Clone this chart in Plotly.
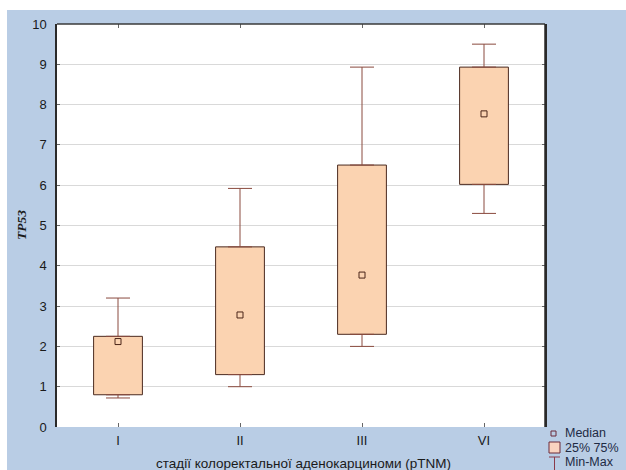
import plotly.graph_objects as go

categories = ["I", "II", "III", "VI"]
q1 = [0.80, 1.30, 2.30, 6.02]
q3 = [2.25, 4.47, 6.50, 8.93]
median = [2.12, 2.78, 3.77, 7.77]
vmin = [0.72, 1.00, 2.00, 5.30]
vmax = [3.20, 5.92, 8.93, 9.50]
y_ticks = list(range(0, 11))

box_fill = "#fbd3b1"
box_line = "#4a2a20"
whisk = "#8a4a3e"

fig = go.Figure()
fig.add_trace(go.Bar(
    x=categories, y=[b - a for a, b in zip(q1, q3)], base=q1, width=0.4,
    marker=dict(color=box_fill, line=dict(color=box_line, width=1)),
    showlegend=False, hoverinfo="skip"))
fig.add_trace(go.Scatter(
    x=categories, y=q3, mode="markers", marker=dict(size=1, opacity=0),
    error_y=dict(type="data", symmetric=False, array=[b - a for a, b in zip(q3, vmax)],
                 arrayminus=[0] * 4, color=whisk, thickness=1, width=12),
    showlegend=False, hoverinfo="skip"))
fig.add_trace(go.Scatter(
    x=categories, y=q1, mode="markers", marker=dict(size=1, opacity=0),
    error_y=dict(type="data", symmetric=False, array=[0] * 4,
                 arrayminus=[a - b for a, b in zip(q1, vmin)], color=whisk, thickness=1, width=12),
    showlegend=False, hoverinfo="skip"))
fig.add_trace(go.Scatter(
    x=categories, y=median, mode="markers",
    marker=dict(symbol="square-open", size=6, color="#4a2418", line=dict(width=1)),
    showlegend=False, hoverinfo="skip"))

font = "Liberation Sans, Arial, sans-serif"
W, H = 488, 403
def px(x):
    return (x - 57) / W
def py(y):
    return (427 - y) / H

shapes = [
    dict(type="rect", xref="paper", yref="paper", x0=px(0), x1=px(626), y0=py(10), y1=py(0),
         fillcolor="white", line=dict(width=0), layer="below"),
    dict(type="rect", xref="paper", yref="paper", x0=px(0), x1=px(7), y0=py(470), y1=py(0),
         fillcolor="white", line=dict(width=0), layer="below"),
    dict(type="line", xref="paper", yref="paper", x0=0, x1=1, y0=1, y1=1, line=dict(color="#3a3a3a", width=1.5)),
    dict(type="line", xref="paper", yref="paper", x0=1, x1=1, y0=0, y1=1, line=dict(color="#2a2a2a", width=1.5)),
    # legend icons
    dict(type="rect", xref="paper", yref="paper", x0=px(551), x1=px(556),
         y0=py(436), y1=py(431), line=dict(color="#6a2a3a", width=1), fillcolor="rgba(0,0,0,0)"),
    dict(type="rect", xref="paper", yref="paper", x0=px(549), x1=px(560),
         y0=py(453), y1=py(442), line=dict(color="#6a2a3a", width=1), fillcolor="#f9d3c0"),
    dict(type="line", xref="paper", yref="paper", x0=px(549), x1=px(560),
         y0=py(457), y1=py(457), line=dict(color="#8a3a4a", width=1)),
    dict(type="line", xref="paper", yref="paper", x0=px(554.5), x1=px(554.5),
         y0=py(457), y1=py(470), line=dict(color="#8a3a4a", width=1)),
]
annotations = [
    dict(text=t, xref="paper", yref="paper", x=px(563), y=py(yy), xanchor="left", yanchor="middle",
         showarrow=False, font=dict(family=font, size=12.5, color="#1e2a44"))
    for t, yy in [("Median", 433), ("25% 75%", 448), ("Min-Max", 462)]
]
annotations.append(dict(text="стадії колоректальної аденокарциноми (pTNM)", xref="paper", yref="paper",
                        x=px(303), y=py(463), xanchor="center", yanchor="middle", showarrow=False,
                        font=dict(family=font, size=13.5, color="#1a1a1a")))
annotations.append(dict(text="<b><i>TP53</i></b>", xref="paper", yref="paper", textangle=-90,
                        x=px(21), y=py(225), xanchor="center", yanchor="middle", showarrow=False,
                        font=dict(family="Liberation Serif, Times New Roman, serif", size=13.5, color="#1a1a1a")))

fig.update_layout(
    width=626, height=470,
    margin=dict(l=57, r=81, t=24, b=43),
    paper_bgcolor="#b9cde5", plot_bgcolor="white",
    shapes=shapes, annotations=annotations, showlegend=False,
    font=dict(family=font, size=12, color="#1a1a1a"),
    xaxis=dict(range=[-0.5, 3.5], showgrid=False, showline=False, zeroline=False, automargin=False,
               ticks="inside", ticklen=4, tickcolor="#666", mirror="ticks",
               tickfont=dict(size=13, color="#1a1a1a"), ticklabelstandoff=4),
    yaxis=dict(range=[0, 10], tickvals=y_ticks, showgrid=True, gridcolor="#d9d9d9", gridwidth=1,
               zeroline=False, showline=True, linecolor="#2a2a2a", linewidth=1.5, automargin=False,
               ticks="inside", ticklen=3, tickcolor="#666", mirror="ticks",
               tickfont=dict(size=13, color="#1a1a1a"), ticklabelstandoff=6),
)

fig.write_html("out.html")
